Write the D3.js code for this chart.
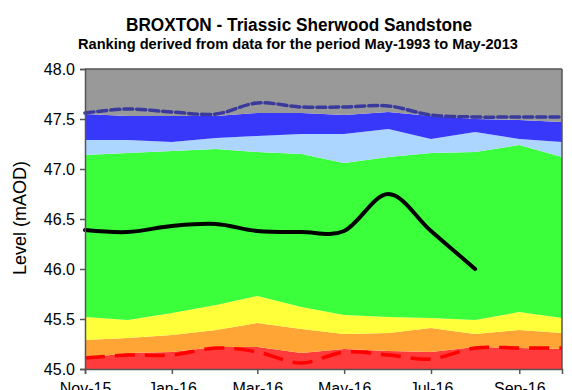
<!DOCTYPE html>
<html>
<head>
<meta charset="utf-8">
<script src="https://cdn.jsdelivr.net/npm/d3@7"></script>
<style>
  html, body { margin: 0; padding: 0; background: #fff; }
  svg { display: block; font-family: "Liberation Sans", Arial, sans-serif; }
</style>
</head>
<body>
<svg id="chart" width="572" height="390"></svg>
<script>
// ---- data ----
const months = ["2015-11-01","2015-12-01","2016-01-01","2016-02-01","2016-03-01","2016-04-01",
                "2016-05-01","2016-06-01","2016-07-01","2016-08-01","2016-09-01","2016-10-01"];
const bandBase = 45.0;
const bandTopAxis = 48.0;
const redTop    = [45.11,45.16,45.17,45.22,45.22,45.16,45.20,45.18,45.17,45.22,45.21,45.20];
const orangeTop = [45.29,45.31,45.34,45.39,45.46,45.40,45.35,45.36,45.41,45.35,45.39,45.36];
const yellowTop = [45.52,45.49,45.56,45.64,45.73,45.62,45.54,45.52,45.51,45.49,45.57,45.51];
const greenTop  = [47.14,47.16,47.18,47.20,47.17,47.15,47.06,47.12,47.16,47.17,47.24,47.12];
const lblueTop  = [47.29,47.29,47.27,47.31,47.33,47.35,47.35,47.40,47.30,47.37,47.30,47.27];
const blueTop   = [47.55,47.53,47.53,47.53,47.56,47.56,47.54,47.57,47.53,47.50,47.49,47.47];
const minLevel  = [45.11,45.14,45.14,45.21,45.17,45.06,45.17,45.14,45.10,45.21,45.21,45.21];
const maxLevel  = [47.56,47.60,47.57,47.55,47.66,47.62,47.62,47.63,47.54,47.52,47.52,47.52];
const observed  = [46.39,46.37,46.43,46.45,46.38,46.37,46.38,46.75,46.38,46.00];
const xTicks = ["2015-11-01","2016-01-01","2016-03-01","2016-05-01","2016-07-01","2016-09-01"];
const yTicks = [45.0,45.5,46.0,46.5,47.0,47.5,48.0];
const title = "BROXTON - Triassic Sherwood Sandstone";
const subtitle = "Ranking derived from data for the period May-1993 to May-2013";
const yLabel = "Level (mAOD)";

// ---- layout ----
const parse = d3.utcParse("%Y-%m-%d");
const dates = months.map(parse);
const svg = d3.select("#chart");
const L = 85, R = 562, T = 69, B = 369;
const x = d3.scaleUtc().domain([dates[0], dates[dates.length-1]]).range([L, R]);
const y = d3.scaleLinear().domain([45, 48]).range([B, T]);

const bands = [
  {lo: () => bandBase, hi: i => redTop[i],    color: "#ff3b3b"},
  {lo: i => redTop[i],    hi: i => orangeTop[i], color: "#ffa535"},
  {lo: i => orangeTop[i], hi: i => yellowTop[i], color: "#ffff3a"},
  {lo: i => yellowTop[i], hi: i => greenTop[i],  color: "#3cff3c"},
  {lo: i => greenTop[i],  hi: i => lblueTop[i],  color: "#acd6ff"},
  {lo: i => lblueTop[i],  hi: i => blueTop[i],   color: "#3838fa"},
  {lo: i => blueTop[i],   hi: () => bandTopAxis, color: "#999999"}
];

const g = svg.append("g");
bands.forEach(b => {
  const area = d3.area()
    .x((d, i) => x(dates[i]))
    .y0((d, i) => y(b.lo(i)))
    .y1((d, i) => y(b.hi(i)));
  g.append("path").datum(dates).attr("d", area).attr("fill", b.color);
});

const smooth = d3.curveCatmullRom.alpha(0);
const lineOf = arr => d3.line().x((d, i) => x(dates[i])).y(d => y(d)).curve(smooth)(arr);

g.append("path").attr("d", lineOf(minLevel))
  .attr("fill", "none").attr("stroke", "#ff0000").attr("stroke-width", 3.5)
  .attr("stroke-dasharray", "20,10");
g.append("path").attr("d", lineOf(maxLevel))
  .attr("fill", "none").attr("stroke", "#3a3a9c").attr("stroke-width", 3.5)
  .attr("stroke-dasharray", "9,4").attr("stroke-linecap", "round");
g.append("path").attr("d", lineOf(observed))
  .attr("fill", "none").attr("stroke", "#000").attr("stroke-width", 4)
  .attr("stroke-linecap", "round").attr("stroke-linejoin", "round");

// frame top/right
svg.append("line").attr("x1", L).attr("x2", R).attr("y1", T).attr("y2", T)
  .attr("stroke", "#555").attr("stroke-width", 1.5);
svg.append("line").attr("x1", R).attr("x2", R).attr("y1", T).attr("y2", B)
  .attr("stroke", "#555").attr("stroke-width", 1.5);

// axes
const yAxis = svg.append("g").attr("transform", `translate(${L},0)`)
  .call(d3.axisLeft(y).tickValues(yTicks).tickFormat(d3.format(".1f")).tickSize(5).tickPadding(5));
const xAxis = svg.append("g").attr("transform", `translate(0,${B})`)
  .call(d3.axisBottom(x).tickValues(xTicks.map(parse)).tickFormat(d3.utcFormat("%b-%y")).tickSize(5).tickPadding(9));
[yAxis, xAxis].forEach(a => {
  a.select(".domain").attr("stroke", "#555").attr("stroke-width", 1.5);
  a.selectAll(".tick line").attr("stroke", "#555").attr("stroke-width", 1.5);
  a.selectAll(".tick text").attr("fill", "#000").style("font-size", "16px")
    .style("font-family", "'Liberation Sans', Arial, sans-serif");
});

// titles
svg.append("text").attr("x", 299).attr("y", 31).attr("text-anchor", "middle")
  .style("font-size", "18px").style("font-weight", "bold")
  .attr("textLength", 346).attr("lengthAdjust", "spacingAndGlyphs").text(title);
svg.append("text").attr("x", 298).attr("y", 49).attr("text-anchor", "middle")
  .style("font-size", "14px").style("font-weight", "bold")
  .attr("textLength", 440).attr("lengthAdjust", "spacingAndGlyphs").text(subtitle);
svg.append("text").attr("transform", "translate(26,218) rotate(-90)")
  .attr("text-anchor", "middle").style("font-size", "18px").text(yLabel);
</script>
</body>
</html>
